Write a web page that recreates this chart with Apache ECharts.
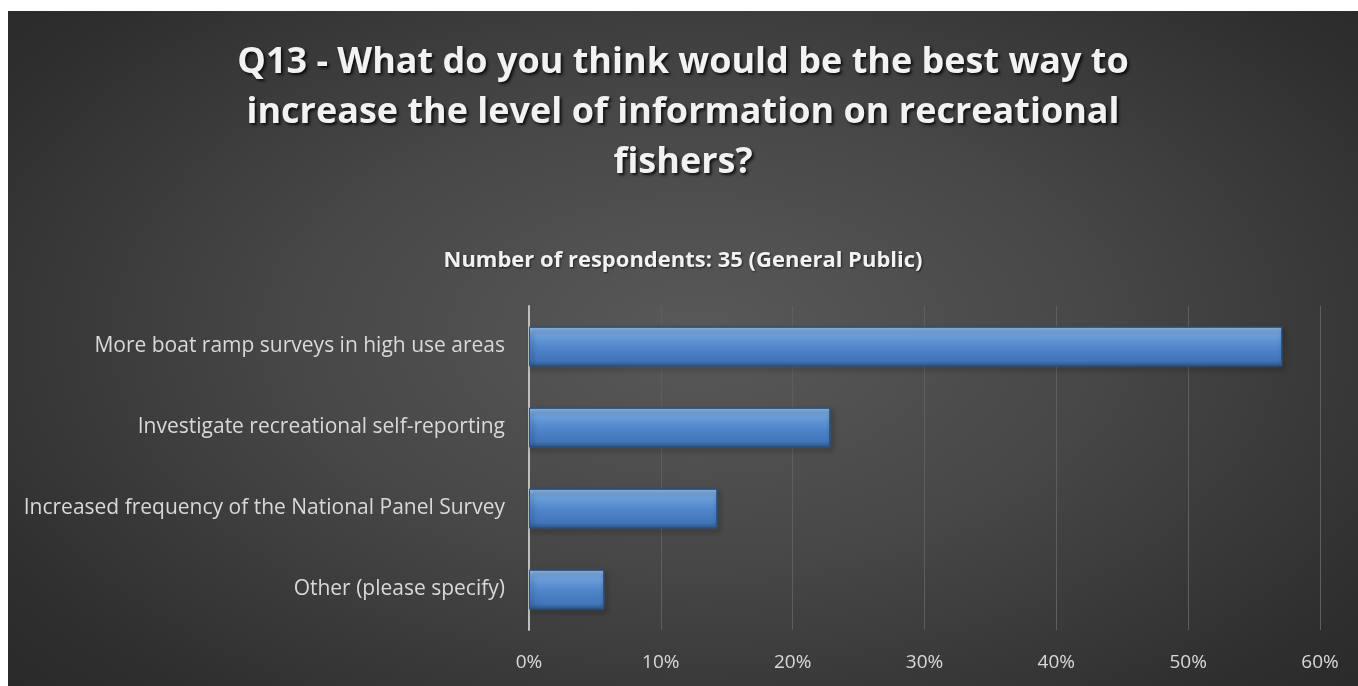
<!DOCTYPE html>
<html>
<head>
<meta charset="utf-8">
<script src="https://cdn.jsdelivr.net/npm/echarts@6/dist/echarts.min.js"></script>
<style>
  html, body { margin: 0; padding: 0; background: #fff; }
  #main {
    position: absolute; left: 8px; top: 11px; width: 1350px; height: 675px;
    background: radial-gradient(ellipse 75% 85% at 51% 48%, #595959 0%, #474747 40%, #2e2e2e 80%, #262626 100%);
  }
</style>
</head>
<body>
<div id="main"></div>
<script>
// data
var categories = [
  'More boat ramp surveys in high use areas',
  'Investigate recreational self-reporting',
  'Increased frequency of the National Panel Survey',
  'Other (please specify)'
];
var shares = [0.5714, 0.2286, 0.1429, 0.0571];
var ticks = [0, 0.1, 0.2, 0.3, 0.4, 0.5, 0.6];

var myChart = echarts.init(document.getElementById('main'));

var option = {
  backgroundColor: 'transparent',
  title: [{
    text: 'Q13 - What do you think would be the best way to\nincrease the level of information on recreational\nfishers?',
    left: 'center',
    top: 22,
    textStyle: {
      color: '#f2f2f2',
      fontFamily: 'Open Sans',
      fontWeight: 'bold',
      fontSize: 36,
      lineHeight: 50,
      textShadowColor: 'rgba(0,0,0,0.8)',
      textShadowBlur: 3,
      textShadowOffsetX: 2,
      textShadowOffsetY: 2
    }
  }, {
    text: 'Number of respondents: 35 (General Public)',
    left: 'center',
    top: 234,
    textStyle: {
      color: '#f2f2f2',
      fontFamily: 'Open Sans',
      fontWeight: 'bold',
      fontSize: 22,
      textShadowColor: 'rgba(0,0,0,0.6)',
      textShadowBlur: 2,
      textShadowOffsetX: 1,
      textShadowOffsetY: 1
    }
  }],
  grid: { left: 521, right: 38, top: 295, bottom: 56 },
  xAxis: {
    type: 'value',
    min: ticks[0],
    max: ticks[ticks.length - 1],
    interval: 0.1,
    axisLine: { show: false },
    axisTick: { show: false },
    splitLine: { lineStyle: { color: '#5e5e5e', width: 1 } },
    axisLabel: {
      color: '#d9d9d9',
      fontFamily: 'Open Sans',
      fontSize: 19,
      margin: 23,
      formatter: function (v) { return Math.round(v * 100) + '%'; }
    }
  },
  yAxis: {
    type: 'category',
    inverse: true,
    data: categories,
    axisLine: { lineStyle: { color: '#bfbfbf', width: 2 } },
    axisTick: { show: false },
    axisLabel: {
      color: '#d9d9d9',
      fontFamily: 'Open Sans',
      fontSize: 21,
      margin: 24
    }
  },
  series: [{
    type: 'bar',
    data: shares,
    barWidth: '49%',
    itemStyle: {
      color: new echarts.graphic.LinearGradient(0, 0, 0, 1, [
        { offset: 0, color: '#9cc3ef' },
        { offset: 0.18, color: '#6fa2dc' },
        { offset: 0.5, color: '#5088cb' },
        { offset: 0.85, color: '#4176b8' },
        { offset: 1, color: '#2f5a8f' }
      ]),
      borderColor: '#2c5283',
      borderWidth: 1,
      shadowColor: 'rgba(0,0,0,0.55)',
      shadowBlur: 5,
      shadowOffsetX: 2,
      shadowOffsetY: 3
    }
  }]
};

myChart.setOption(option);
</script>
</body>
</html>
